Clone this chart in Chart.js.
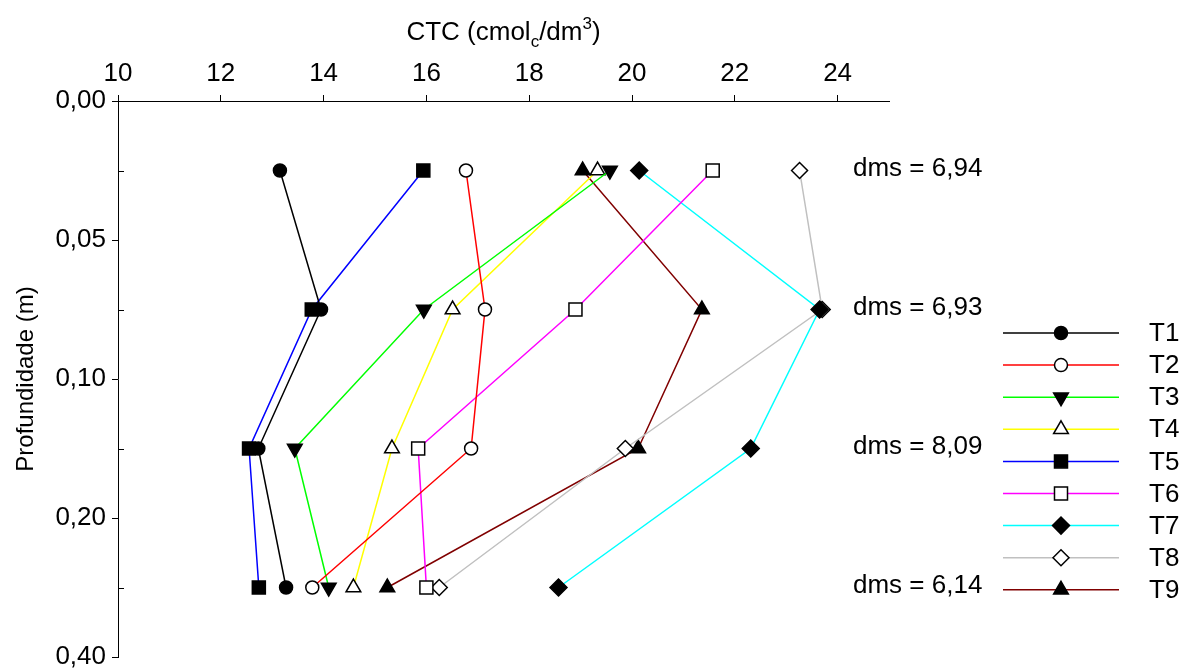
<!DOCTYPE html>
<html>
<head>
<meta charset="utf-8">
<script src="https://cdn.jsdelivr.net/npm/chart.js@4/dist/chart.umd.min.js"></script>
<style>
  html, body { margin: 0; padding: 0; background: #ffffff; }
  #wrap { width: 1186px; height: 670px; position: relative; }
</style>
</head>
<body>
<div id="wrap"><canvas id="c" width="1186" height="670"></canvas></div>
<script>
// ---- data ----
const depthLabels = ['0,00', '0,05', '0,10', '0,20', '0,40'];
const depthRows = [0.5, 1.5, 2.5, 3.5];
const seriesNames = ['T1', 'T2', 'T3', 'T4', 'T5', 'T6', 'T7', 'T8', 'T9'];
const T1 = [13.15, 13.95, 12.73, 13.27];
const T2 = [16.77, 17.14, 16.87, 13.78];
const T3 = [19.57, 15.95, 13.44, 14.10];
const T4 = [19.33, 16.51, 15.33, 14.58];
const T5 = [15.94, 13.77, 12.55, 12.74];
const T6 = [21.57, 18.90, 15.84, 16.00];
const T7 = [20.14, 23.65, 22.31, 18.57];
const T8 = [23.26, 23.70, 19.87, 16.25];
const T9 = [19.04, 21.36, 20.12, 15.24];
const dmsLabels = ['dms = 6,94', 'dms = 6,93', 'dms = 8,09', 'dms = 6,14'];
const xTicks = [10, 12, 14, 16, 18, 20, 22, 24];

const seriesValues = [T1, T2, T3, T4, T5, T6, T7, T8, T9];
const lineColors = ['#000000', '#ff0000', '#00ff00', '#ffff00', '#0000ff', '#ff00ff', '#00ffff', '#c0c0c0', '#800000'];
const markerStyles = ['circle', 'circle', 'triangle', 'triangle', 'rect', 'rect', 'rectRot', 'rectRot', 'triangle'];
const markerFilled = [true, false, true, false, true, false, true, false, true];
const markerRotation = [0, 0, 180, 0, 0, 0, 0, 0, 0];
const markerRadius = [6.5, 6.5, 8.5, 8.5, 9.2, 9.2, 8.5, 8, 8.5];

const FONT = 'Liberation Sans, Arial, sans-serif';
const FS = 26;

const datasets = seriesNames.map((name, i) => ({
  label: name,
  data: seriesValues[i].map((v, j) => ({ x: v, y: depthRows[j] })),
  borderColor: lineColors[i],
  borderWidth: 1.5,
  pointStyle: markerStyles[i],
  pointRotation: markerRotation[i],
  pointRadius: markerRadius[i],
  pointHoverRadius: markerRadius[i],
  pointBackgroundColor: markerFilled[i] ? '#000000' : '#ffffff',
  pointBorderColor: '#000000',
  pointBorderWidth: 1.5,
  tension: 0,
  fill: false
}));

const extrasPlugin = {
  id: 'extras',
  afterDraw(chart) {
    const ctx = chart.ctx;
    const ys = chart.scales.y;
    const ca = chart.chartArea;
    ctx.save();
    // minor inner ticks on depth axis
    ctx.strokeStyle = '#000';
    ctx.lineWidth = 1;
    depthRows.forEach(r => {
      const y = Math.round(ys.getPixelForValue(r)) + 0.5;
      ctx.beginPath();
      ctx.moveTo(ca.left, y);
      ctx.lineTo(ca.left + 6, y);
      ctx.stroke();
    });
    // x title with subscript / superscript
    ctx.fillStyle = '#000';
    ctx.textBaseline = 'alphabetic';
    const big = FS + 'px ' + FONT, small = '17px ' + FONT;
    const parts = [['CTC (cmol', big, 0], ['c', small, 7], ['/dm', big, 0], ['3', small, -11], [')', big, 0]];
    let total = 0;
    parts.forEach(p => { ctx.font = p[1]; total += ctx.measureText(p[0]).width; });
    let x = (ca.left + ca.right) / 2 - total / 2;
    const baseY = 40;
    parts.forEach(p => {
      ctx.font = p[1];
      ctx.textAlign = 'left';
      ctx.fillText(p[0], x, baseY + p[2]);
      x += ctx.measureText(p[0]).width;
    });
    // dms labels
    ctx.font = FS + 'px ' + FONT;
    ctx.textBaseline = 'middle';
    dmsLabels.forEach((t, j) => {
      ctx.fillText(t, 853, ys.getPixelForValue(depthRows[j]) - 2);
    });
    // legend
    const lx0 = 1003, lx1 = 1119, lmx = 1061, ltx = 1149;
    const ly0 = 333, lstep = 32.1;
    chart.data.datasets.forEach((ds, i) => {
      const y = ly0 + i * lstep;
      ctx.strokeStyle = ds.borderColor;
      ctx.lineWidth = 1.5;
      ctx.beginPath();
      ctx.moveTo(lx0, y);
      ctx.lineTo(lx1, y);
      ctx.stroke();
      ctx.fillStyle = ds.pointBackgroundColor;
      ctx.strokeStyle = ds.pointBorderColor;
      ctx.lineWidth = ds.pointBorderWidth;
      Chart.helpers.drawPoint(ctx, {
        pointStyle: ds.pointStyle,
        rotation: ds.pointRotation,
        radius: ds.pointRadius,
        borderWidth: ds.pointBorderWidth
      }, lmx, y);
      ctx.fillStyle = '#000';
      ctx.font = FS + 'px ' + FONT;
      ctx.textAlign = 'left';
      ctx.textBaseline = 'middle';
      ctx.fillText(ds.label, ltx, y + 1);
    });
    ctx.restore();
  }
};

new Chart(document.getElementById('c'), {
  type: 'line',
  data: { datasets },
  options: {
    responsive: false,
    animation: false,
    events: [],
    layout: { padding: { left: 0, top: 0, right: 297, bottom: 13 } },
    plugins: { legend: { display: false }, tooltip: { enabled: false }, title: { display: false } },
    scales: {
      x: {
        type: 'linear',
        position: 'top',
        min: 10,
        max: 25,
        afterBuildTicks: axis => { axis.ticks = xTicks.map(v => ({ value: v })); },
        afterFit: scale => { scale.height = 101; scale.paddingLeft = 0; scale.paddingRight = 0; },
        ticks: { color: '#000', font: { family: FONT, size: FS }, padding: 6, maxRotation: 0, autoSkip: false },
        grid: { display: true, drawOnChartArea: false, drawTicks: true, tickLength: 6, color: '#000', lineWidth: 1 },
        border: { display: true, color: '#000', width: 1 }
      },
      y: {
        type: 'linear',
        position: 'left',
        reverse: true,
        min: 0,
        max: 4,
        afterBuildTicks: axis => { axis.ticks = depthLabels.map((l, i) => ({ value: i })); },
        afterFit: scale => { scale.width = 118; scale.paddingTop = 0; scale.paddingBottom = 0; },
        ticks: {
          color: '#000', font: { family: FONT, size: FS }, padding: 6, autoSkip: false,
          callback: v => depthLabels[v]
        },
        title: {
          display: true, text: 'Profundidade (m)', color: '#000',
          font: { family: FONT, size: 24 }, padding: { top: 12, bottom: 0 }
        },
        grid: { display: true, drawOnChartArea: false, drawTicks: true, tickLength: 6, color: '#000', lineWidth: 1 },
        border: { display: true, color: '#000', width: 1 }
      }
    }
  },
  plugins: [extrasPlugin]
});
</script>
</body>
</html>
